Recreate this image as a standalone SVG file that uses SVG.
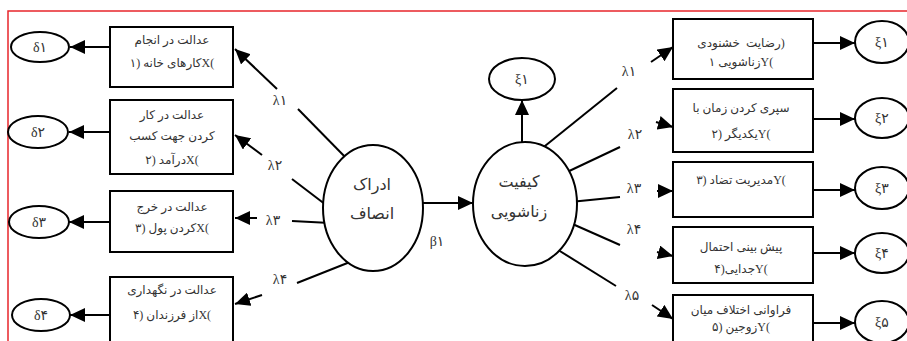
<svg xmlns="http://www.w3.org/2000/svg" width="907" height="341" viewBox="0 0 907 341">
<defs>
<marker id="ah" markerUnits="userSpaceOnUse" markerWidth="16" markerHeight="14" refX="15" refY="7" orient="auto">
<path d="M0,0 L15,7 L0,14 Z" fill="#000"/>
</marker>
<style>
.b{fill:#fff;stroke:#000;stroke-width:2}
.e{fill:#fff;stroke:#000;stroke-width:2}
.c{fill:none;stroke:#000;stroke-width:2}
.a{fill:none;stroke:#000;stroke-width:2;marker-end:url(#ah)}
.t{font-family:'Liberation Serif','DejaVu Sans',serif;font-size:12px;fill:#333;text-anchor:middle;direction:rtl;unicode-bidi:embed}
.g{font-family:'Liberation Serif','DejaVu Sans',serif;font-size:14px;fill:#333;text-anchor:middle;direction:ltr;unicode-bidi:embed}
.m{font-family:'Liberation Serif','DejaVu Sans',serif;font-size:16px;fill:#333;text-anchor:middle;direction:rtl}
</style>
</defs>
<rect x="8" y="11" width="930" height="360" fill="none" stroke="#e8262b" stroke-width="1.5"/>
<g id="connectors">
<line class="a" x1="110" y1="47" x2="70" y2="47"/>
<line class="a" x1="110" y1="132" x2="69" y2="132"/>
<line class="a" x1="110" y1="222" x2="69" y2="222"/>
<line class="a" x1="110" y1="315" x2="70" y2="315"/>
<line class="c" x1="350" y1="162" x2="298" y2="109"/>
<line class="a" x1="277" y1="89" x2="235" y2="49"/>
<line class="c" x1="330" y1="208" x2="292" y2="179"/>
<line class="a" x1="262" y1="155" x2="235" y2="135"/>
<line class="c" x1="330" y1="223" x2="292" y2="221"/>
<line class="a" x1="257" y1="218" x2="235" y2="218"/>
<line class="c" x1="355" y1="260" x2="297" y2="283"/>
<line class="a" x1="262" y1="295" x2="235" y2="304"/>
<line class="a" x1="420" y1="203" x2="473" y2="203"/>
<line class="a" x1="522" y1="145" x2="522" y2="100"/>
<line class="c" x1="540" y1="150" x2="617" y2="88"/>
<line class="a" x1="651" y1="62" x2="673" y2="47"/>
<line class="c" x1="565" y1="173" x2="620" y2="147"/>
<line class="a" x1="656" y1="122" x2="673" y2="127"/>
<line class="c" x1="570" y1="202" x2="620" y2="197"/>
<line class="a" x1="657" y1="191" x2="673" y2="191"/>
<line class="c" x1="568" y1="222" x2="620" y2="245"/>
<line class="a" x1="657" y1="252" x2="673" y2="256"/>
<line class="c" x1="555" y1="248" x2="616" y2="286"/>
<line class="a" x1="652" y1="305" x2="673" y2="319"/>
<line class="a" x1="813" y1="43" x2="855" y2="43"/>
<line class="a" x1="813" y1="119" x2="855" y2="119"/>
<line class="a" x1="813" y1="190" x2="855" y2="190"/>
<line class="a" x1="813" y1="253" x2="855" y2="253"/>
<line class="a" x1="813" y1="323" x2="855" y2="323"/>
<text class="g" x="280" y="105">λ۱</text>
<text class="g" x="275" y="170">λ۲</text>
<text class="g" x="273" y="225">λ۳</text>
<text class="g" x="280" y="284">λ۴</text>
<text class="g" x="437" y="246">β۱</text>
<text class="g" x="629" y="76">λ۱</text>
<text class="g" x="635" y="139">λ۲</text>
<text class="g" x="634" y="193">λ۳</text>
<text class="g" x="634" y="234">λ۴</text>
<text class="g" x="632" y="300">λ۵</text>
</g>
<g id="d1"><ellipse class="e" cx="40" cy="47" rx="29" ry="15"/><text class="g" x="40" y="52">δ۱</text></g>
<g id="d2"><ellipse class="e" cx="38" cy="132" rx="30" ry="16"/><text class="g" x="38" y="137">δ۲</text></g>
<g id="d3"><ellipse class="e" cx="39" cy="222" rx="30" ry="16"/><text class="g" x="39" y="227">δ۳</text></g>
<g id="d4"><ellipse class="e" cx="41" cy="315" rx="29" ry="16"/><text class="g" x="41" y="320">δ۴</text></g>
<g id="x1"><rect class="b" x="110" y="27" width="123" height="60"/>
<text class="t" x="172" y="44">عدالت در انجام</text>
<text class="t" x="172" y="67">)Xکارهای خانه (۱</text></g>
<g id="x2"><rect class="b" x="110" y="100" width="123" height="74"/>
<text class="t" x="172" y="119">عدالت در کار</text>
<text class="t" x="172" y="140">کردن جهت کسب</text>
<text class="t" x="172" y="164">)Xدرآمد (۲</text></g>
<g id="x3"><rect class="b" x="110" y="191" width="123" height="61"/>
<text class="t" x="172" y="211">عدالت در خرج</text>
<text class="t" x="172" y="232">)Xکردن پول (۳</text></g>
<g id="x4"><rect class="b" x="110" y="277" width="123" height="80"/>
<text class="t" x="172" y="294">عدالت در نگهداری</text>
<text class="t" x="172" y="319">)Xاز فرزندان (۴</text></g>
<g id="f1"><ellipse class="e" cx="373" cy="208" rx="50" ry="63"/>
<text class="m" x="372" y="190">ادراک</text>
<text class="m" x="372" y="219">انصاف</text></g>
<g id="f2"><ellipse class="e" cx="525" cy="204" rx="52" ry="62"/>
<text class="m" x="519" y="187">کیفیت</text>
<text class="m" x="519" y="217">زناشویی</text></g>
<g id="z0"><ellipse class="e" cx="522" cy="79" rx="33" ry="21"/><text class="g" x="522" y="84">ξ۱</text></g>
<g id="y1"><rect class="b" x="673" y="19" width="140" height="60"/>
<text class="t" x="741" y="47" style="white-space:pre">(رضایت  خشنودی</text>
<text class="t" x="741" y="66">)Yزناشویی ۱</text></g>
<g id="y2"><rect class="b" x="673" y="89" width="140" height="63"/>
<text class="t" x="741" y="112">سپری کردن زمان با</text>
<text class="t" x="741" y="138">)Yیکدیگر (۲</text></g>
<g id="y3"><rect class="b" x="673" y="162" width="140" height="55"/>
<text class="t" x="741" y="184">)Yمدیریت تضاد (۳</text></g>
<g id="y4"><rect class="b" x="673" y="227" width="140" height="56"/>
<text class="t" x="741" y="251">پیش بینی احتمال</text>
<text class="t" x="741" y="273">)Yجدایی(۴</text></g>
<g id="y5"><rect class="b" x="673" y="295" width="140" height="60"/>
<text class="t" x="741" y="314">فراوانی اختلاف میان</text>
<text class="t" x="741" y="331">)Yزوجین (۵</text></g>
<g id="z1"><ellipse class="e" cx="882" cy="42" rx="27" ry="21"/><text class="g" x="882" y="47">ξ۱</text></g>
<g id="z2"><ellipse class="e" cx="882" cy="118" rx="27" ry="20"/><text class="g" x="882" y="123">ξ۲</text></g>
<g id="z3"><ellipse class="e" cx="882" cy="188" rx="27" ry="21"/><text class="g" x="882" y="193">ξ۳</text></g>
<g id="z4"><ellipse class="e" cx="882" cy="253" rx="27" ry="20"/><text class="g" x="882" y="258">ξ۴</text></g>
<g id="z5"><ellipse class="e" cx="882" cy="322" rx="27" ry="21"/><text class="g" x="882" y="327">ξ۵</text></g>
</svg>
